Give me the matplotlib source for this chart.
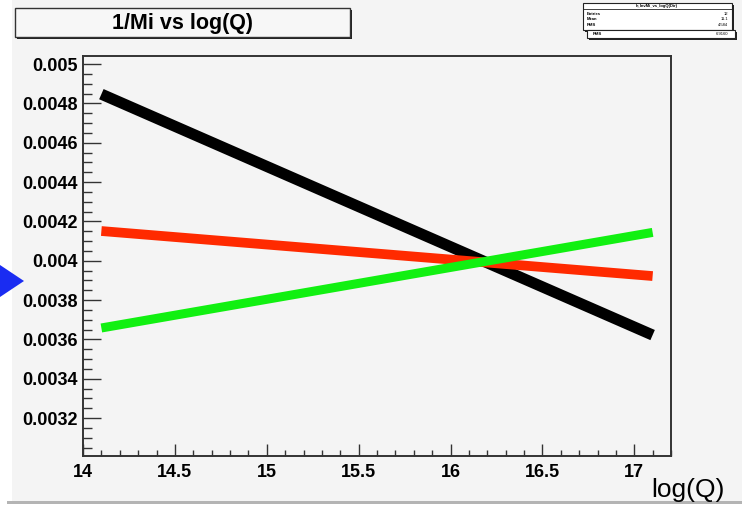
import matplotlib.pyplot as plt
from matplotlib.patches import Rectangle, Polygon
from matplotlib.ticker import MultipleLocator, FixedLocator

plt.rcParams['font.family'] = ['Liberation Sans', 'DejaVu Sans']

# 1/Mi against log(Q) for the three fits
logq = [14.1, 17.1]
inv_mi_black = [0.004847, 0.003622]
inv_mi_red = [0.004151, 0.003922]
inv_mi_green = [0.003658, 0.004144]

xticks = [14, 14.5, 15, 15.5, 16, 16.5, 17]
xticklabels = ["14", "14.5", "15", "15.5", "16", "16.5", "17"]
yticks = [0.0032, 0.0034, 0.0036, 0.0038, 0.004, 0.0042, 0.0044, 0.0046, 0.0048, 0.005]
yticklabels = ["0.0032", "0.0034", "0.0036", "0.0038", "0.004", "0.0042",
               "0.0044", "0.0046", "0.0048", "0.005"]

stats_rows = [("Entries", "12"), ("Mean", "11.1"), ("RMS", "4.584")]

W, H = 742, 509
fig = plt.figure(figsize=(W / 100, H / 100), dpi=100)
fig.patch.set_facecolor("white")


def px(x, y):
    # pixel position (from top-left) -> figure fraction
    return x / W, 1 - y / H


# canvas background and lower border
x0, y1 = px(12, 501)
fig.patches.append(Rectangle((x0, y1), 1 - x0, 1 - y1, transform=fig.transFigure,
                             facecolor="#f4f4f4", edgecolor="none", zorder=-10))
bx, by = px(7, 504)
fig.patches.append(Rectangle((bx, by), 1 - bx, 3 / H, transform=fig.transFigure,
                             facecolor="#b4b4b4", edgecolor="none", zorder=-10))

# blue marker on the left edge
fig.patches.append(Polygon([px(0, 265), px(24, 281), px(0, 297)], closed=True,
                           transform=fig.transFigure, facecolor="#1a2cf2",
                           edgecolor="none", zorder=1))

left, right = 83 / W, 671 / W
bottom, top = 1 - 456 / H, 1 - 56 / H
ax = fig.add_axes([left, bottom, right - left, top - bottom])
ax.set_facecolor("#f4f4f4")

ax.plot(logq, inv_mi_black, color="black", lw=8, solid_capstyle="butt")
ax.plot(logq, inv_mi_red, color="#ff2a00", lw=7, solid_capstyle="butt")
ax.plot(logq, inv_mi_green, color="#11f011", lw=6.5, solid_capstyle="butt")

ax.set_xlim(14, 17.2)
ax.set_ylim(0.003007, 0.005041)

ax.xaxis.set_major_locator(FixedLocator(xticks))
ax.set_xticklabels(xticklabels)
ax.xaxis.set_minor_locator(MultipleLocator(0.1))
ax.yaxis.set_major_locator(FixedLocator(yticks))
ax.set_yticklabels(yticklabels)
ax.yaxis.set_minor_locator(MultipleLocator(0.00005))

for s in ax.spines.values():
    s.set_color("#333333")
    s.set_linewidth(1.4)

ax.tick_params(axis="both", which="both", direction="in", color="#333333",
               labelsize=13, width=1.0)
ax.tick_params(axis="x", which="major", length=9, pad=6)
ax.tick_params(axis="x", which="minor", length=4.5)
ax.tick_params(axis="y", which="major", length=13, pad=4)
ax.tick_params(axis="y", which="minor", length=6.5)
ax.tick_params(top=False, right=False, which="both")
for lab in ax.get_xticklabels() + ax.get_yticklabels():
    lab.set_fontweight("bold")

# x axis title at lower right
fig.text(*px(725, 497), "log(Q)", ha="right", va="baseline", fontsize=19)

# title box with shadow
tx, ty = px(15, 37)
fig.patches.append(Rectangle((tx + 2 / W, ty - 2 / H), 335 / W, 29 / H,
                             transform=fig.transFigure, facecolor="#222222",
                             edgecolor="none", zorder=2))
fig.patches.append(Rectangle((tx, ty), 335 / W, 29 / H, transform=fig.transFigure,
                             facecolor="#f7f7f7", edgecolor="#333333", lw=1.0, zorder=3))
fig.text(*px(183, 23), "1/Mi vs log(Q)", ha="center", va="center",
         fontsize=15.5, fontweight="bold", zorder=4)

# statistics box
sx, sy = px(583, 30)
fig.patches.append(Rectangle((sx + 2 / W, sy - 2 / H), 149 / W, 27 / H,
                             transform=fig.transFigure, facecolor="#222222",
                             edgecolor="none", zorder=2))
fig.patches.append(Rectangle((sx, sy), 149 / W, 27 / H, transform=fig.transFigure,
                             facecolor="white", edgecolor="#222222", lw=0.8, zorder=3))
fig.text(*px(657, 6), "h_InvMi_vs_logQ(Dir)", ha="center", va="center",
         fontsize=3, fontweight="bold", zorder=4)
fig.lines.append(plt.Line2D([sx, sx + 149 / W], [1 - 9 / H, 1 - 9 / H],
                            transform=fig.transFigure, color="#222222", lw=0.6, zorder=4))
for i, (name, val) in enumerate(stats_rows):
    yy = 14 + 5.5 * i
    fig.text(*px(587, yy), name, ha="left", va="center", fontsize=3,
             fontweight="bold", zorder=4)
    fig.text(*px(728, yy), val, ha="right", va="center", fontsize=3, zorder=4)

rx, ry = px(587, 38)
fig.patches.append(Rectangle((rx + 2 / W, ry - 2 / H), 148 / W, 8 / H,
                             transform=fig.transFigure, facecolor="#222222",
                             edgecolor="none", zorder=2))
fig.patches.append(Rectangle((rx, ry), 148 / W, 8 / H, transform=fig.transFigure,
                             facecolor="white", edgecolor="#222222", lw=0.8, zorder=3))
fig.text(*px(593, 34), "RMS", ha="left", va="center", fontsize=3,
         fontweight="bold", zorder=4)
fig.text(*px(728, 34), "6.9160", ha="right", va="center", fontsize=3, zorder=4)

fig.savefig("out.png", dpi=100)
